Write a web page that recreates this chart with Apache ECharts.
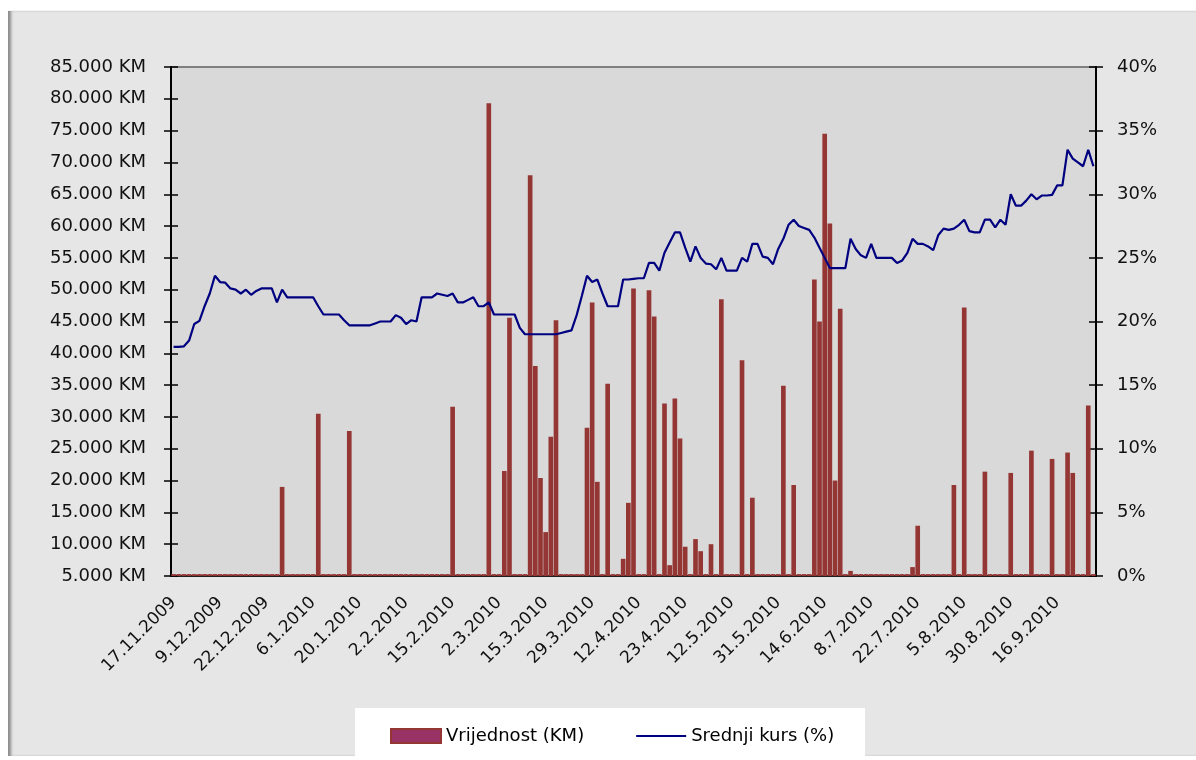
<!DOCTYPE html>
<html>
<head>
<meta charset="utf-8">
<script src="https://cdn.jsdelivr.net/npm/echarts@6/dist/echarts.min.js"></script>
<style>
  body { margin: 0; background: #ffffff; }
  #frame {
    position: absolute; left: 8px; top: 10px; width: 1188px; height: 745px;
    background: #e6e6e6;
    border-top: 1px solid #f4f4f4;
    box-shadow: inset 4px 0 3px -1px #8c8c8c;
  }
  #main { position: absolute; left: 0; top: 0; width: 1196px; height: 760px; }
</style>
</head>
<body>
<div id="frame"></div>
<div id="main"></div>
<script>
  // dates shown under the axis (every 9th trading day)
  const tickLabels = ['17.11.2009', '9.12.2009', '22.12.2009', '6.1.2010', '20.1.2010', '2.2.2010',
    '15.2.2010', '2.3.2010', '15.3.2010', '29.3.2010', '12.4.2010', '23.4.2010', '12.5.2010',
    '31.5.2010', '14.6.2010', '8.7.2010', '22.7.2010', '5.8.2010', '30.8.2010', '16.9.2010'];

  // Vrijednost (KM)
  const vrijednost = [
    5300, 5300, 5300, 5300, 5300, 5300, 5300, 5300, 5300, 5300,
    5300, 5300, 5300, 5300, 5300, 5300, 5300, 5300, 5300, 5300,
    5300, 19000, 5300, 5300, 5300, 5300, 5300, 5300, 30500, 5300,
    5300, 5300, 5300, 5300, 27800, 5300, 5300, 5300, 5300, 5300,
    5300, 5300, 5300, 5300, 5300, 5300, 5300, 5300, 5300, 5300,
    5300, 5300, 5300, 5300, 31600, 5300, 5300, 5300, 5300, 5300,
    5300, 79300, 5300, 5300, 21500, 45600, 5300, 5300, 5300, 68000,
    38000, 20400, 11900, 26900, 45200, 5300, 5300, 5300, 5300, 5300,
    28300, 48000, 19800, 5300, 35200, 5300, 5300, 7700, 16500, 50200,
    5300, 5300, 49900, 45800, 5300, 32100, 6700, 32900, 26600, 9600,
    5300, 10800, 8900, 5300, 10000, 5300, 48500, 5300, 5300, 5300,
    38900, 5300, 17300, 5300, 5300, 5300, 5300, 5300, 34900, 5300,
    19300, 5300, 5300, 5300, 51600, 45000, 74500, 60400, 20000, 47000,
    5300, 5800, 5300, 5300, 5300, 5300, 5300, 5300, 5300, 5300,
    5300, 5300, 5300, 6400, 12900, 5300, 5300, 5300, 5300, 5300,
    5300, 19300, 5300, 47200, 5300, 5300, 5300, 21400, 5300, 5300,
    5300, 5300, 21200, 5300, 5300, 5300, 24700, 5300, 5300, 5300,
    23400, 5300, 5300, 24400, 21200, 5300, 5300, 31800, 5300
  ];

  // Srednji kurs (%)
  const srednjiKurs = [
    18.0, 18.0, 18.05, 18.5, 19.8, 20.05, 21.2, 22.2, 23.6, 23.1,
    23.05, 22.6, 22.5, 22.2, 22.5, 22.1, 22.4, 22.6, 22.6, 22.6,
    21.5, 22.5, 21.9, 21.9, 21.9, 21.9, 21.9, 21.9, 21.2, 20.55,
    20.55, 20.55, 20.55, 20.1, 19.7, 19.7, 19.7, 19.7, 19.7, 19.85,
    20.0, 20.0, 20.0, 20.5, 20.3, 19.8, 20.1, 20.0, 21.9, 21.9,
    21.9, 22.2, 22.1, 22.0, 22.2, 21.5, 21.5, 21.7, 21.9, 21.2,
    21.2, 21.5, 20.55, 20.55, 20.55, 20.55, 20.55, 19.5, 19.0, 19.0,
    19.0, 19.0, 19.0, 19.0, 19.0, 19.1, 19.2, 19.3, 20.5, 22.0,
    23.6, 23.1, 23.3, 22.2, 21.2, 21.2, 21.2, 23.3, 23.3, 23.35,
    23.4, 23.4, 24.6, 24.6, 24.0, 25.4, 26.2, 27.0, 27.0, 25.8,
    24.7, 25.9, 25.0, 24.55, 24.5, 24.1, 25.0, 24.0, 24.0, 24.0,
    25.0, 24.7, 26.1, 26.1, 25.1, 25.0, 24.5, 25.7, 26.5, 27.6,
    28.0, 27.5, 27.35, 27.2, 26.6, 25.8, 25.0, 24.2, 24.2, 24.2,
    24.2, 26.5, 25.7, 25.2, 25.0, 26.1, 25.0, 25.0, 25.0, 25.0,
    24.6, 24.8, 25.4, 26.5, 26.1, 26.1, 25.9, 25.6, 26.8, 27.3,
    27.2, 27.3, 27.6, 28.0, 27.1, 27.0, 27.0, 28.0, 28.0, 27.4,
    28.0, 27.6, 30.0, 29.1, 29.1, 29.5, 30.0, 29.6, 29.9, 29.9,
    29.95, 30.7, 30.7, 33.5, 32.8, 32.5, 32.2, 33.5, 32.2
  ];

  // one category per trading day, only every 9th one is labelled
  const categories = vrijednost.map((v, i) => (i % 9 === 0 && tickLabels[i / 9]) ? tickLabels[i / 9] : '');

  const fontFamily = "'DejaVu Sans', sans-serif";
  const kmFormat = (v) => String(v).replace(/\B(?=(\d{3})+(?!\d))/g, '.') + ' KM';

  const myChart = echarts.init(document.getElementById('main'), null, { renderer: 'canvas' });

  const leftAxis = {
    type: 'value', min: 5000, max: 85000, interval: 5000,
    splitLine: { show: false }
  };
  const rightAxis = {
    type: 'value', min: 0, max: 40, interval: 5,
    splitLine: { show: false }
  };

  const option = {
    animation: false,
    textStyle: { fontFamily: fontFamily },
    grid: {
      left: 171, right: 100, top: 67, bottom: 184,
      show: true, backgroundColor: '#d9d9d9',
      borderColor: '#808080', borderWidth: 2
    },
    graphic: [{
      type: 'rect', left: 355, top: 708, z: 0,
      shape: { width: 510, height: 49 },
      style: { fill: '#ffffff' }
    }],
    legend: {
      left: 390, top: 727, padding: 0,
      itemWidth: 50, itemHeight: 14, itemGap: 52,
      textStyle: { fontSize: 18, color: '#000', fontFamily: fontFamily },
      data: [
        { name: 'Vrijednost (KM)', icon: 'rect', itemStyle: { color: '#993366', borderColor: '#943634', borderWidth: 2 } },
        { name: 'Srednji kurs (%)', icon: 'path://M0,0H50V2H0Z', itemStyle: { color: '#000080' } }
      ]
    },
    xAxis: [{
      type: 'category', data: categories, boundaryGap: true, position: 'bottom',
      axisLine: { lineStyle: { color: '#000', width: 1.5 } },
      axisTick: { interval: 0, length: 6, lineStyle: { color: '#000', width: 1.2 } },
      axisLabel: {
        interval: 8, rotate: 45, margin: 24,
        fontSize: 17, color: '#111', fontFamily: fontFamily
      }
    }, {
      type: 'category', data: categories, boundaryGap: true, position: 'bottom',
      axisLine: { show: false },
      axisTick: { interval: 0, inside: true, length: 6, lineStyle: { color: '#000', width: 1.2 } },
      axisLabel: { show: false }
    }],
    yAxis: [
      Object.assign({}, leftAxis, {
        position: 'left',
        axisLine: { show: true, lineStyle: { color: '#000', width: 2 } },
        axisTick: { show: true, length: 7, lineStyle: { color: '#000', width: 1.5 } },
        axisLabel: { margin: 25, fontSize: 18, color: '#111', formatter: kmFormat, fontFamily: fontFamily }
      }),
      Object.assign({}, rightAxis, {
        position: 'right',
        axisLine: { show: true, lineStyle: { color: '#000', width: 2 } },
        axisTick: { show: true, length: 7, lineStyle: { color: '#000', width: 1.5 } },
        axisLabel: { margin: 21, fontSize: 18, color: '#111', formatter: '{value}%', fontFamily: fontFamily }
      }),
      Object.assign({}, leftAxis, {
        position: 'left',
        axisLine: { show: false },
        axisTick: { show: true, inside: true, length: 7, lineStyle: { color: '#000', width: 1.5 } },
        axisLabel: { show: false }
      }),
      Object.assign({}, rightAxis, {
        position: 'right',
        axisLine: { show: false },
        axisTick: { show: true, inside: true, length: 7, lineStyle: { color: '#000', width: 1.5 } },
        axisLabel: { show: false }
      })
    ],
    series: [{
      name: 'Vrijednost (KM)',
      type: 'bar',
      xAxisIndex: 0,
      yAxisIndex: 0,
      barCategoryGap: '10%',
      itemStyle: { color: '#943634' },
      data: vrijednost
    }, {
      name: 'Srednji kurs (%)',
      type: 'line',
      xAxisIndex: 0,
      yAxisIndex: 1,
      symbol: 'none',
      lineStyle: { color: '#000080', width: 2.2 },
      itemStyle: { color: '#000080' },
      data: srednjiKurs
    }]
  };

  myChart.setOption(option);
</script>
</body>
</html>
